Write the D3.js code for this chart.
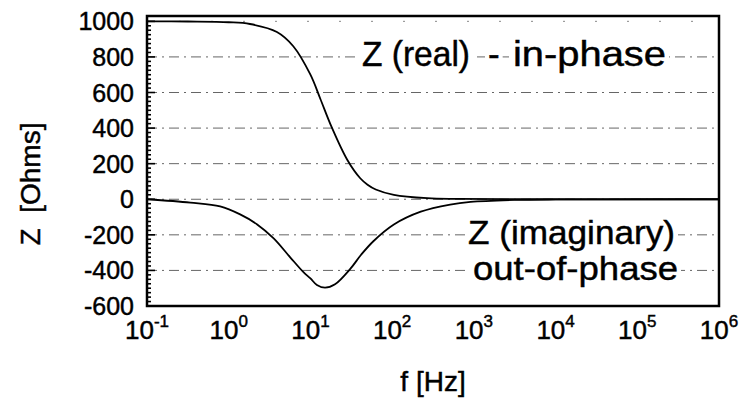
<!DOCTYPE html>
<html>
<head>
<meta charset="utf-8">
<script src="https://cdn.jsdelivr.net/npm/d3@7"></script>
<style>
  html, body { margin: 0; padding: 0; background: #fff; }
  svg { display: block; font-family: "Liberation Sans", Arial, Helvetica, sans-serif; }
  text { stroke: #000; stroke-width: 0.45px; }
</style>
</head>
<body>
<svg id="chart" width="741" height="398"></svg>
<script>
// ---- data ----
const realFreq = [0.1, 0.316, 1, 1.82, 3.89, 6.17, 10, 13.2, 18.2, 28.2, 40.7, 50, 63, 105, 269, 631, 3162, 1e6];
const realZ    = [1000, 999, 995, 985, 940, 860, 700, 565, 405, 222, 118, 82, 55, 25, 6, 2, 0, 0];
const imagFreq = [0.1, 0.339, 0.785, 1.38, 2.21, 3.55, 5.62, 8.22, 10, 12.0, 15.1, 20, 30.9, 41.7, 58.9, 105, 224, 513, 912, 3162, 1e4, 1e6];
const imagZ    = [0, -19, -40, -85, -140, -220, -325, -410, -445, -482, -497, -478, -390, -312, -236, -142, -70, -30, -15, -4, -1, 0];
const xTickExp = [-1, 0, 1, 2, 3, 4, 5, 6];
const yTicks   = [1000, 800, 600, 400, 200, 0, -200, -400, -600];
const gridVals = [800, 600, 400, 200, 0, -200, -400];

const svg = d3.select("#chart");
const pL = 147, pR = 719, pT = 16, pB = 306;

const x = d3.scaleLog().domain([0.1, 1e6]).range([pL, pR]);
const y = d3.scaleLinear().domain([-600, 1030]).range([pB, pT]);

// gridlines (dash-dot)
svg.append("g").selectAll("line").data(gridVals).join("line")
  .attr("x1", pL).attr("x2", pR)
  .attr("y1", d => y(d)).attr("y2", d => y(d))
  .attr("stroke", "#666").attr("stroke-width", 1)
  .attr("stroke-dasharray", "10 5 2 5");
// sparse top line at 1000
svg.append("line")
  .attr("x1", pL).attr("x2", pR)
  .attr("y1", y(1000)).attr("y2", y(1000))
  .attr("stroke", "#888").attr("stroke-width", 1)
  .attr("stroke-dasharray", "2 30");

// curves
const lineR = d3.line().x((d, i) => x(realFreq[i])).y(d => y(d)).curve(d3.curveCatmullRom.alpha(0.5));
const lineI = d3.line().x((d, i) => x(imagFreq[i])).y(d => y(d)).curve(d3.curveCatmullRom.alpha(0.5));
svg.append("path").attr("d", lineR(realZ)).attr("fill", "none").attr("stroke", "#000").attr("stroke-width", 1.8);
svg.append("path").attr("d", lineI(imagZ)).attr("fill", "none").attr("stroke", "#000").attr("stroke-width", 1.8);

// annotation labels with white background
function label(txt, xPos, base, len, size) {
  const g = svg.append("g");
  const t = g.append("text").attr("x", xPos).attr("y", base)
    .attr("font-size", size).attr("fill", "#000").text(txt);
  if (len) t.attr("textLength", len).attr("lengthAdjust", "spacingAndGlyphs");
  const b = t.node().getBBox();
  g.insert("rect", "text").attr("x", b.x - 3).attr("y", b.y + 3)
    .attr("width", b.width + 6).attr("height", b.height - 6)
    .attr("fill", "#fff").style("stroke", "none");
}
label("Z (real)", 362, 66, 108, 35);
label("-", 488, 66, null, 35);
label("in-phase", 513, 66, 153, 35);
label("Z (imaginary)", 468, 244, 207, 34);
label("out-of-phase", 473, 280, 205, 34);

// left axis ticks (inside)
const minor = d3.range(-600, 1001, 25);
svg.append("g").selectAll("line").data(minor).join("line")
  .attr("x1", pL).attr("x2", d => pL + (d % 200 === 0 ? 8 : 4))
  .attr("y1", d => y(d)).attr("y2", d => y(d))
  .attr("stroke", "#000").attr("stroke-width", 1.6);

// frame
svg.append("rect").attr("x", pL).attr("y", pT)
  .attr("width", pR - pL).attr("height", pB - pT)
  .attr("fill", "none").attr("stroke", "#000").attr("stroke-width", 2.5);

// y tick labels
svg.append("g").selectAll("text").data(yTicks).join("text")
  .attr("x", 134).attr("y", d => y(d)).attr("dy", "0.36em")
  .attr("text-anchor", "end").attr("font-size", 25).attr("fill", "#000")
  .text(d => d);

// x tick labels 10^n
const xl = svg.append("g").selectAll("text").data(xTickExp).join("text")
  .attr("x", d => x(Math.pow(10, d))).attr("y", 339)
  .attr("text-anchor", "middle").attr("font-size", 26).attr("fill", "#000");
xl.append("tspan").text("10");
xl.append("tspan").attr("font-size", 17).attr("dy", -12).text(d => d);

// axis titles
svg.append("text").attr("x", 433).attr("y", 391).attr("text-anchor", "middle")
  .attr("font-size", 28).attr("fill", "#000").text("f [Hz]");
svg.append("text").attr("transform", "translate(40,184) rotate(-90)")
  .attr("text-anchor", "middle").attr("font-size", 28).attr("fill", "#000")
  .style("white-space", "pre").text("Z  [Ohms]");
</script>
</body>
</html>
